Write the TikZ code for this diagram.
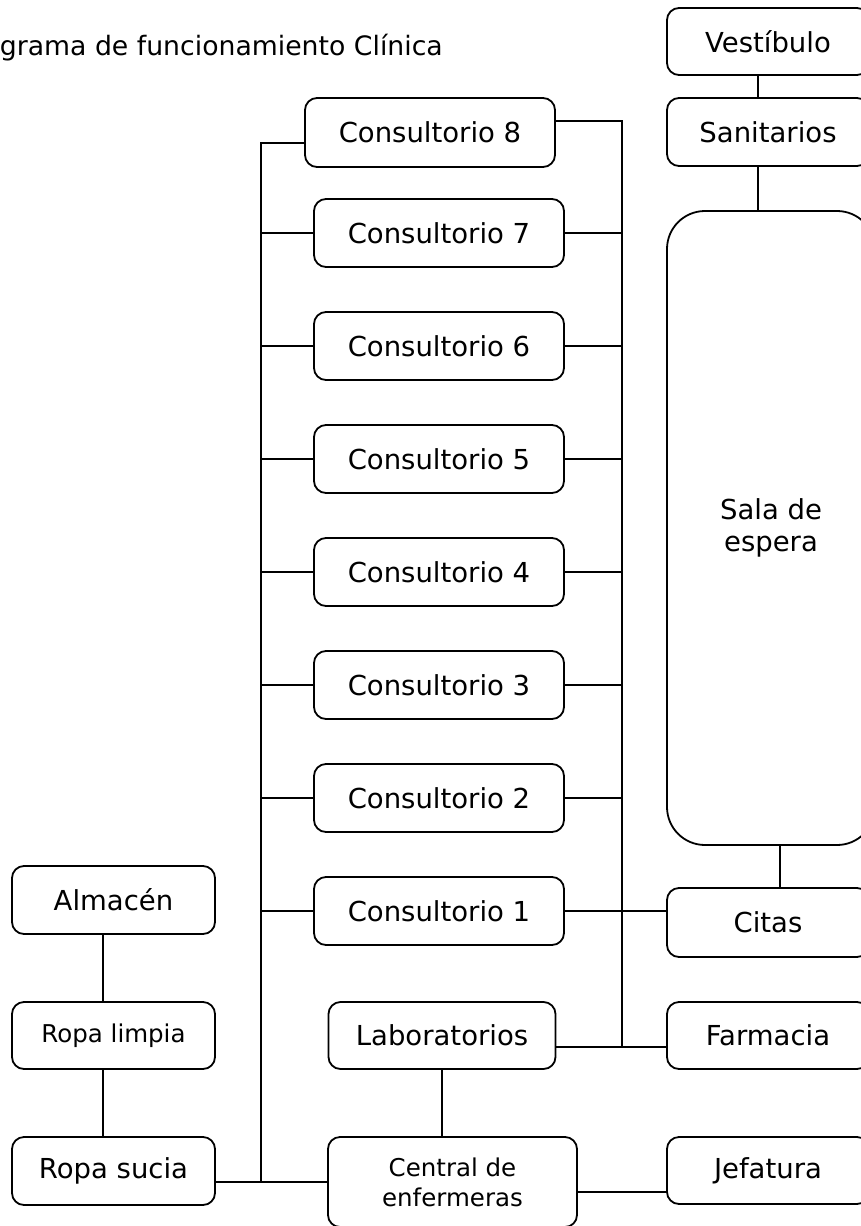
\documentclass[tikz,border=0pt]{standalone}
\usepackage{fontspec}
\setmainfont{DejaVu Sans}

\begin{document}
\begin{tikzpicture}[x=1pt, y=-1pt, line width=1.8pt,
  caja/.style={draw, rounded corners=12pt, inner sep=0pt, align=center,
    minimum height=68pt, font=\fontsize{27.5}{32}\selectfont},
  chica/.style={caja, font=\fontsize{24.5}{30}\selectfont}]
\useasboundingbox (0,0) rectangle (861,1226);

\node[anchor=base west, inner sep=0pt, font=\fontsize{26.7}{32}\selectfont] (titulo) at (-1, 55) {grama de funcionamiento Clínica};

\node[caja, minimum width=202pt, minimum height=67pt] (vest) at (768, 41.5) {Vestíbulo};
\node[caja, minimum width=202pt] (san) at (768, 132) {Sanitarios};
\node[caja, minimum width=208pt, minimum height=634pt, rounded corners=38pt] (sala) at (771, 528) {Sala de\\espera};
\node[caja, minimum width=202pt, minimum height=69pt] (cit) at (768, 922.5) {Citas};
\node[caja, minimum width=202pt, minimum height=67pt] (farm) at (768, 1035.5) {Farmacia};
\node[caja, minimum width=202pt, minimum height=67pt] (jef) at (768, 1170.5) {Jefatura};

\node[caja, minimum width=250pt, minimum height=69pt] (c8) at (430, 132.5) {Consultorio 8};
\node[caja, minimum width=250pt] (c7) at (439, 233) {Consultorio 7};
\node[caja, minimum width=250pt] (c6) at (439, 346) {Consultorio 6};
\node[caja, minimum width=250pt] (c5) at (439, 459) {Consultorio 5};
\node[caja, minimum width=250pt] (c4) at (439, 572) {Consultorio 4};
\node[caja, minimum width=250pt] (c3) at (439, 685) {Consultorio 3};
\node[caja, minimum width=250pt] (c2) at (439, 798) {Consultorio 2};
\node[caja, minimum width=250pt] (c1) at (439, 911) {Consultorio 1};

\node[caja, minimum width=227pt, minimum height=67pt] (lab) at (442, 1035.5) {Laboratorios};
\node[chica, minimum width=249pt, minimum height=90pt] (cen) at (452.5, 1182) {Central de\\enfermeras};

\node[caja, minimum width=203pt] (alm) at (113.5, 900) {Almacén};
\node[chica, minimum width=203pt, minimum height=67pt] (rlim) at (113.5, 1035.5) {Ropa limpia};
\node[caja, minimum width=203pt] (rsuc) at (113.5, 1171) {Ropa sucia};

\coordinate (lbus) at (261, 1182);
\coordinate (rbus) at (622, 1047);

\draw ([yshift=-10.5pt]c8.west) -| (lbus);
\draw ([yshift=11.5pt]c8.east) -| (rbus);
\foreach \i in {1,...,7}
  \draw (c\i.west) -- (c\i.west -| lbus);
\foreach \i in {2,...,7}
  \draw (c\i.east) -- (c\i.east -| rbus);
\draw (c1.east) -- (c1.east -| cit.west);

\draw ([xshift=-10pt]vest.south) -- ([xshift=-10pt]san.north);
\draw ([xshift=-10pt]san.south) -- ([xshift=-10pt]san.south |- sala.north);
\draw ([xshift=9pt]sala.south) -- ([xshift=9pt]sala.south |- cit.north);

\draw ([yshift=-11.5pt]lab.east) -- ([yshift=-11.5pt]farm.west);
\draw (lab.south) -- (lab.south |- cen.north);
\draw (rsuc.east |- cen.west) -- (cen.west);
\draw ([yshift=-10pt]cen.east) -- ([yshift=-10pt]cen.east -| jef.west);

\draw ([xshift=-10.5pt]alm.south) -- ([xshift=-10.5pt]rlim.north);
\draw ([xshift=-10.5pt]rlim.south) -- ([xshift=-10.5pt]rsuc.north);

\end{tikzpicture}
\end{document}
